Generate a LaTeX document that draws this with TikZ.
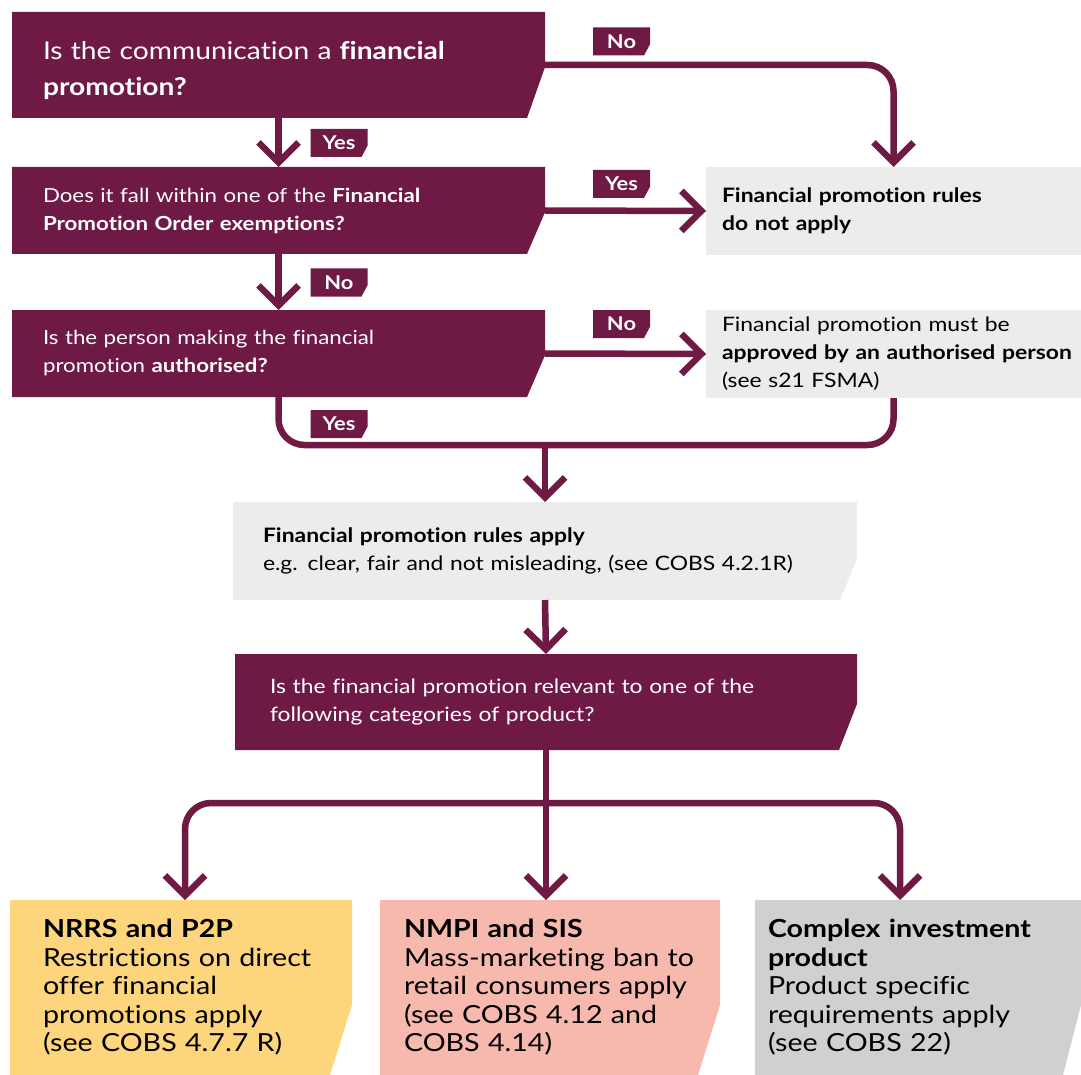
\documentclass[tikz,border=0pt]{standalone}
\usepackage{fontspec}
\setmainfont{Lato}[Ligatures=NoCommon, FakeStretch=1.15]
\usetikzlibrary{arrows.meta,calc}
\definecolor{fca}{RGB}{110,26,68}
\definecolor{lgrey}{RGB}{236,236,236}
\definecolor{pyellow}{RGB}{253,213,124}
\definecolor{ppink}{RGB}{247,184,174}
\definecolor{pgrey}{RGB}{208,208,208}
\tikzset{
  x=1pt, y=-1pt,
  slant/.style n args={3}{fill=white, path picture={
    \fill[#1] (path picture bounding box.north west) -- (path picture bounding box.north east)
      -- ($(path picture bounding box.south east)!#2!(path picture bounding box.north east)$)
      -- ([xshift=-#3]path picture bounding box.south east)
      -- (path picture bounding box.south west) -- cycle;}},
  box/.style={anchor=north west, align=left, inner ysep=0pt, outer sep=0pt},
  qbox/.style={box, slant={fca}{0.48}{18pt}, text=white},
  lbox/.style={box, text=black},
  small/.style={font=\fontsize{19.9}{28}\selectfont},
  big/.style={font=\fontsize{24.9}{28.5}\selectfont},
  lbl/.style={slant={fca}{0.4}{6pt}, text=white, font=\bfseries\fontsize{19}{22}\selectfont,
    minimum width=57pt, minimum height=28pt, inner sep=0pt},
  conn/.style={draw=fca, line width=6.5pt, rounded corners=26pt},
  arr/.style={conn, -{Straight Barb[length=20pt,width=40pt]}},
  darr/.style={conn, {Straight Barb[length=20pt,width=40pt]}-{Straight Barb[length=20pt,width=40pt]}}
}
\begin{document}
\begin{tikzpicture}
\useasboundingbox (0,0) rectangle (1081,1075);
% question boxes
\node[qbox, minimum height=106pt, text width=471pt, inner xsep=31pt,
  font=\fontsize{24.5}{36}\selectfont] (q1) at (12,12)
  {\rule{0pt}{30pt}Is the communication a \textbf{financial}\\\textbf{promotion?}};
\node[qbox, font=\fontsize{19.4}{28}\selectfont, minimum height=87pt, text width=471pt, inner xsep=31pt] (q2) at (12,167)
  {Does it fall within one of the \textbf{Financial}\\\textbf{Promotion Order exemptions?}};
\node[qbox, font=\fontsize{19.4}{28}\selectfont, minimum height=87pt, text width=471pt, inner xsep=31pt] (q3) at (12,310)
  {Is the person making the financial\\promotion \textbf{authorised?}};
% result boxes right
\node[lbox, small, fill=lgrey, minimum height=88pt, text width=343pt, inner xsep=16pt] (ra) at (706,167)
  {\textbf{Financial promotion rules}\\\textbf{do not apply}};
\node[lbox, small, fill=lgrey, minimum height=88pt, text width=343pt, inner xsep=16pt] (rb) at (706,310)
  {Financial promotion must be\\\mbox{\textbf{approved by an authorised person}}\\(see s21 FSMA)};
% rules apply
\node[lbox, small, slant={lgrey}{0.42}{17pt}, minimum height=98pt, text width=564pt, inner xsep=30pt] (rc) at (233,502)
  {\textbf{Financial promotion rules apply}\\e.g. clear, fair and not misleading, (see COBS 4.2.1R)};
\node[qbox, small, minimum height=96pt, text width=552pt, inner xsep=35pt] (q4) at (235,654)
  {Is the financial promotion relevant to one of the\\following categories of product?};
% product boxes
\node[lbox, big, slant={pyellow}{0.4}{22pt}, minimum height=175pt, text width=276pt, inner xsep=33pt] (p1) at (10,900)
  {\textbf{NRRS and P2P}\\\mbox{Restrictions on direct}\\offer financial\\promotions apply\\(see COBS 4.7.7 R)};
\node[lbox, big, slant={ppink}{0.4}{22pt}, minimum height=175pt, text width=292pt, inner xsep=24pt] (p2) at (380,900)
  {\textbf{NMPI and SIS}\\\mbox{Mass-marketing ban to}\\\mbox{retail consumers apply}\\(see COBS 4.12 and\\COBS 4.14)};
\node[lbox, big, slant={pgrey}{0.4}{18pt}, minimum height=175pt, text width=300pt, inner xsep=13pt] (p3) at (755,900)
  {\textbf{Complex investment}\\\textbf{product}\\Product specific\\requirements apply\\(see COBS 22)};
% labels
\node[lbl] (l1) at (621.5,41.5) {No};
\node[lbl] (l2) at (339,143) {Yes};
\node[lbl] (l3) at (621.5,184) {Yes};
\node[lbl] (l4) at (339,282.5) {No};
\node[lbl] (l5) at (621.5,324) {No};
\node[lbl] (l6) at (339,424) {Yes};
% connectors
\coordinate (m1) at (rc.north |- 0,445);
\coordinate (m2) at (q4.south |- 0,803);
\coordinate (t1) at (185,900);
\coordinate (t3) at (900,900);
\draw[arr] (q1.east) -| (ra.north);
\draw[arr] (q1.south) -- (q2.north);
\draw[arr] (q2.east) -- (ra.west);
\draw[arr] (q2.south) -- (q3.north);
\draw[arr] (q3.east) -- (rb.west);
\draw[conn] (q3.south) |- (rb.south |- m1) -- (rb.south);
\draw[arr] (m1) -- (rc.north);
\draw[arr] (rc.south) -- (q4.north);
\draw[arr] (q4.south) -- (q4.south |- p2.north);
\draw[darr] (t1) |- (t3 |- m2) -- (t3);
\end{tikzpicture}
\end{document}
